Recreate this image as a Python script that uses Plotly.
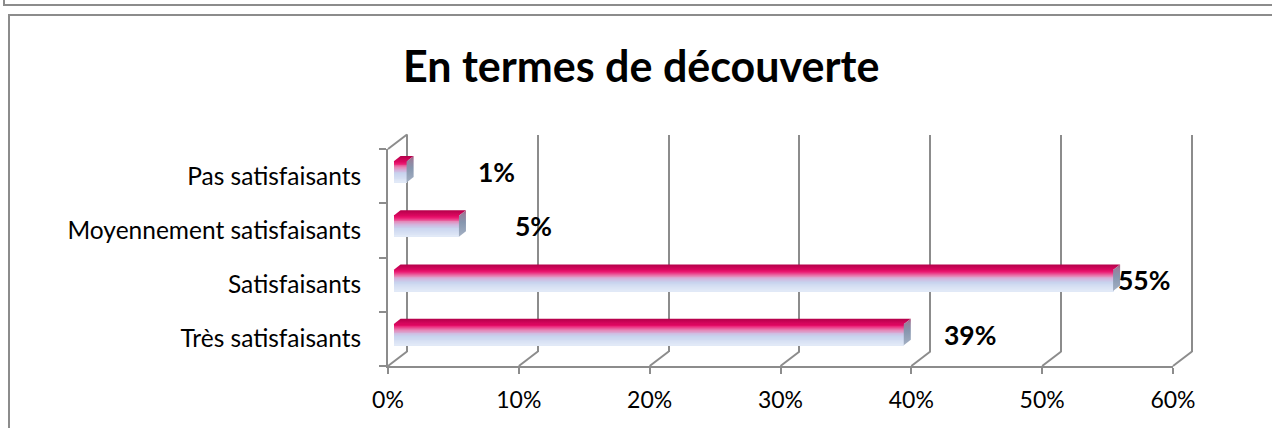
import plotly.graph_objects as go

# data
categories = ["Très satisfaisants", "Satisfaisants", "Moyennement satisfaisants", "Pas satisfaisants"]
values = [0.39, 0.55, 0.05, 0.01]
value_labels = ["39%", "55%", "5%", "1%"]
label_pos = [0.441, 0.574, 0.107, 0.079]  # where excel put the data labels
x_ticks = [0, 0.1, 0.2, 0.3, 0.4, 0.5, 0.6]
x_tick_labels = ["0%", "10%", "20%", "30%", "40%", "50%", "60%"]

W, H = 1272, 428
GREY = "#8c8c8c"
FONT = "Lato"

# front plane in pixels
fx0, fx1 = 388, 1173
fy_bot, fy_top = 366, 149
dep_x, dep_y = 19, 14.5          # depth of the 3d box
bar_front, bar_depth = 0.29, 0.37  # bar placed inside the depth
bar_w = 0.387


def dom_x(a, b):
    return [a / W, b / W]


def dom_y(bot, top):
    return [1 - bot / H, 1 - top / H]


n_cat = len(categories)
yr = [-0.5, n_cat - 0.5]
xr = [x_ticks[0], x_ticks[-1]]
px_x = (fx1 - fx0) / (xr[1] - xr[0])
px_y = (fy_bot - fy_top) / (yr[1] - yr[0])
pad = 0.005  # so plotly keeps the grid lines at both ends of the back wall
edge = 4     # px of room around the diagonal edges so they are not clipped
back_y = dom_y(fy_bot - dep_y, fy_top - dep_y)

fig = go.Figure()

# subplot order = drawing order: back wall (x,y), front axes (x2,y2), bars (x3,y3), box edges (x4,y4)
fig.add_trace(go.Scatter(x=[xr[0], xr[0]], y=yr, mode="lines", line=dict(color=GREY, width=2),
                         xaxis="x", yaxis="y", showlegend=False, hoverinfo="skip"))
fig.add_trace(go.Scatter(x=[None], y=[None], xaxis="x2", yaxis="y2", showlegend=False, hoverinfo="skip"))

# bar front faces, gradient made of thin strips
grad = [(0.0, (0xD8, 0x00, 0x58)), (0.12, (0xEC, 0x1A, 0x72)), (0.3, (0xE6, 0x86, 0xB6)),
        (0.45, (0xD2, 0xB6, 0xDE)), (0.6, (0xC8, 0xD3, 0xEE)), (1.0, (0xE2, 0xEA, 0xF8))]


def grad_col(t):
    for (t0, c0), (t1, c1) in zip(grad[:-1], grad[1:]):
        if t0 <= t <= t1:
            f = (t - t0) / (t1 - t0)
            c = [round(a + (b - a) * f) for a, b in zip(c0, c1)]
            return "rgb(%d,%d,%d)" % tuple(c)
    return "rgb(%d,%d,%d)" % grad[-1][1]


N = 24
for i in range(N):
    fig.add_trace(go.Bar(
        x=values, y=list(range(n_cat)), orientation="h",
        width=bar_w / N + 0.002, offset=bar_w / 2 - (i + 1) * bar_w / N,
        marker=dict(color=grad_col((i + 0.5) / N), line=dict(width=0)),
        xaxis="x3", yaxis="y3", showlegend=False, hoverinfo="skip"))

# top and side faces of the bars
ddx = bar_depth * dep_x / px_x
ddy = bar_depth * dep_y / px_y
for k, v in enumerate(values):
    top = k + bar_w / 2
    bot = k - bar_w / 2
    fig.add_trace(go.Scatter(
        x=[0, v, v + ddx, ddx, 0], y=[top, top, top + ddy, top + ddy, top],
        mode="lines", line=dict(width=0), fill="toself",
        fillgradient=dict(type="vertical", colorscale=[[0, "#dc0860"], [1, "#b4004a"]]),
        xaxis="x3", yaxis="y3", showlegend=False, hoverinfo="skip"))
    fig.add_trace(go.Scatter(
        x=[v, v + ddx, v + ddx, v, v], y=[bot, bot + ddy, top + ddy, top, bot],
        mode="lines", line=dict(width=0), fill="toself",
        fillgradient=dict(type="vertical",
                          colorscale=[[0, "#a4b0c4"], [0.55, "#8696ae"], [0.85, "#98809c"], [1, "#b0507c"]]),
        xaxis="x3", yaxis="y3", showlegend=False, hoverinfo="skip"))

fig.add_trace(go.Scatter(x=[None], y=[None], xaxis="x4", yaxis="y4", showlegend=False, hoverinfo="skip"))

# data labels
for k, (lab, p) in enumerate(zip(value_labels, label_pos)):
    fig.add_annotation(x=p, y=k, xref="x3", yref="y3", text="<b>%s</b>" % lab, showarrow=False,
                       xanchor="center", yanchor="middle",
                       font=dict(family=FONT, size=26.5, color="black"))

# diagonal edges of the floor and left wall
line_style = dict(color=GREY, width=2)
shapes = []
for v in x_ticks:
    shapes.append(dict(type="line", xref="x4", yref="y4", xsizemode="pixel", ysizemode="pixel",
                       xanchor=v, yanchor=yr[0], x0=0, x1=dep_x, y0=0, y1=dep_y, line=line_style))
shapes.append(dict(type="line", xref="x4", yref="y4", xsizemode="pixel", ysizemode="pixel",
                   xanchor=xr[0], yanchor=yr[1], x0=0, x1=dep_x, y0=0, y1=dep_y, line=line_style))
# back edge of the left wall, in the lowest layer so the bars cover it
shapes.append(dict(type="line", xref="x4", yref="paper", xsizemode="pixel", xanchor=xr[0],
                   x0=dep_x, x1=dep_x, y0=back_y[0], y1=back_y[1], line=line_style, layer="below"))
# chart frames
shapes.append(dict(type="rect", xref="paper", yref="paper", x0=9 / W, x1=1.02, y0=-0.05, y1=1 - 15 / H,
                   line=line_style))
shapes.append(dict(type="rect", xref="paper", yref="paper", x0=4 / W, x1=1.02, y0=1 - 5 / H, y1=1.05,
                   line=line_style))

fig.update_layout(
    template="none",
    width=W, height=H, margin=dict(l=0, r=0, t=0, b=0, autoexpand=False),
    paper_bgcolor="white", plot_bgcolor="rgba(0,0,0,0)",
    barmode="overlay", bargap=0, showlegend=False,
    font=dict(family=FONT, color="black"),
    shapes=shapes,
    # back wall
    xaxis=dict(domain=dom_x(fx0 + dep_x - pad * px_x, fx1 + dep_x + pad * px_x), range=[xr[0] - pad, xr[1] + pad],
               anchor="y", automargin=False, tickvals=x_ticks, showticklabels=False, showgrid=True,
               gridcolor=GREY, gridwidth=2, zeroline=False, showline=False, ticks=""),
    yaxis=dict(domain=back_y, range=yr, anchor="x", automargin=False,
               showgrid=False, zeroline=False, showticklabels=False, showline=False, ticks=""),
    # front axes
    xaxis2=dict(domain=dom_x(fx0, fx1), range=xr, anchor="y2", tickvals=x_ticks, ticktext=x_tick_labels,
                automargin=False, showgrid=False, zeroline=False, showline=True, linecolor=GREY, linewidth=2,
                ticks="outside", ticklen=6, tickcolor=GREY, tickwidth=2, ticklabelstandoff=6,
                tickfont=dict(family=FONT, size=23, color="black")),
    yaxis2=dict(domain=dom_y(fy_bot, fy_top), range=yr, anchor="x2", tickvals=list(range(n_cat)),
                ticktext=categories, automargin=False, showgrid=False, zeroline=False, showline=True,
                linecolor=GREY, linewidth=2, ticks="", ticklabelstandoff=20,
                minor=dict(tickvals=[i - 0.5 for i in range(n_cat + 1)], ticks="outside", ticklen=7,
                           tickcolor=GREY, tickwidth=2),
                tickfont=dict(family=FONT, size=24.5, color="black")),
    # bars, pushed into the depth
    xaxis3=dict(domain=dom_x(fx0 + bar_front * dep_x, fx1 + bar_front * dep_x), range=xr, anchor="y3",
                visible=False, automargin=False),
    yaxis3=dict(domain=dom_y(fy_bot - bar_front * dep_y, fy_top - bar_front * dep_y), range=yr,
                anchor="x3", visible=False, automargin=False),
    # whole box incl. depth, only used to hold the diagonal edges
    xaxis4=dict(domain=dom_x(fx0 - edge, fx1 + dep_x + edge),
                range=[xr[0] - edge / px_x, xr[1] + (dep_x + edge) / px_x], anchor="y4",
                visible=False, automargin=False),
    yaxis4=dict(domain=dom_y(fy_bot + edge, fy_top - dep_y - edge),
                range=[yr[0] - edge / px_y, yr[1] + (dep_y + edge) / px_y], anchor="x4",
                visible=False, automargin=False),
)

fig.add_annotation(x=641 / W, y=1 - 66 / H, xref="paper", yref="paper", text="<b>En termes de découverte</b>",
                   xanchor="center", yanchor="middle", showarrow=False,
                   font=dict(family=FONT, size=43, color="black"))

# page body has a default margin, drop it so the figure sits at the window corner
fig.write_html("out.html", config={"displayModeBar": False},
               post_script="document.body.style.margin = '0';")
